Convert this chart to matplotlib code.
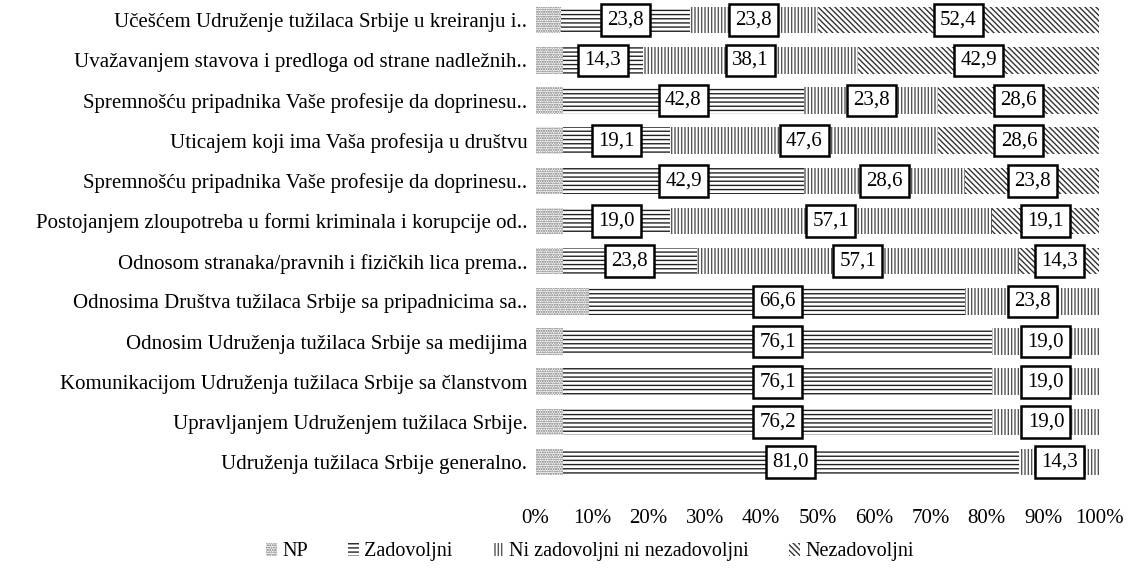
import matplotlib
matplotlib.use("Agg")
import matplotlib.pyplot as plt
import numpy as np
from matplotlib.patches import Patch

plt.rcParams['font.family'] = ['Liberation Serif', 'DejaVu Serif']
plt.rcParams['hatch.linewidth'] = 1.0

categories = [
    "Učešćem Udruženje tužilaca Srbije u kreiranju i..",
    "Uvažavanjem stavova i predloga od strane nadležnih..",
    "Spremnošću pripadnika Vaše profesije da doprinesu..",
    "Uticajem koji ima Vaša profesija u društvu",
    "Spremnošću pripadnika Vaše profesije da doprinesu..",
    "Postojanjem zloupotreba u formi kriminala i korupcije od..",
    "Odnosom stranaka/pravnih i fizičkih lica prema..",
    "Odnosima Društva tužilaca Srbije sa pripadnicima sa..",
    "Odnosim Udruženja tužilaca Srbije sa medijima",
    "Komunikacijom Udruženja tužilaca Srbije sa članstvom",
    "Upravljanjem Udruženjem tužilaca Srbije.",
    "Udruženja tužilaca Srbije generalno.",
]
series_names = ["NP", "Zadovoljni", "Ni zadovoljni ni nezadovoljni", "Nezadovoljni"]
np_vals = [4.8, 4.8, 4.8, 4.8, 4.8, 4.8, 4.8, 9.5, 4.8, 4.8, 4.8, 4.8]
zadovoljni = [23.8, 14.3, 42.8, 19.1, 42.9, 19.0, 23.8, 66.6, 76.1, 76.1, 76.2, 81.0]
ni_ni = [23.8, 38.1, 23.8, 47.6, 28.6, 57.1, 57.1, 23.8, 19.0, 19.0, 19.0, 14.3]
nezadovoljni = [52.4, 42.9, 28.6, 28.6, 23.8, 19.1, 14.3, 0.0, 0.0, 0.0, 0.0, 0.0]
tick_labels = ["0%", "10%", "20%", "30%", "40%", "50%", "60%", "70%", "80%", "90%", "100%"]

data = np.array([np_vals, zadovoljni, ni_ni, nezadovoljni], dtype=float)
totals = data.sum(axis=0)
pct = data / totals * 100

hatches = ['.......', '----', '|||||', '\\\\\\\\\\\\']
hcolors = ['#707070', '#222222', '#555555', '#333333']
labelled = [False, True, True, True]

fig = plt.figure(figsize=(11.3, 5.7), dpi=100)
ax = fig.add_axes([0.474, 0.154, 0.499, 0.846])

y = np.arange(len(categories))
left = np.zeros(len(categories))
for i in range(4):
    ax.barh(y, pct[i], left=left, height=0.66, color='white',
            edgecolor=hcolors[i], linewidth=0, hatch=hatches[i])
    if labelled[i]:
        for j in range(len(categories)):
            if data[i, j] > 0:
                ax.text(left[j] + pct[i, j] / 2, y[j], f"{data[i, j]:.1f}".replace('.', ','),
                        ha='center', va='center', fontsize=15,
                        bbox=dict(boxstyle='square,pad=0.3', fc='white', ec='black', lw=1.8))
    left += pct[i]

ax.set_xlim(0, 100)
ax.set_ylim(len(categories) - 0.5, -0.5)
ax.set_yticks(y)
ax.set_yticklabels(categories, fontsize=15)
ax.set_xticks(np.arange(0, 101, 10))
ax.set_xticklabels(tick_labels, fontsize=15)
ax.tick_params(axis='both', length=0)
ax.tick_params(axis='x', pad=19)
ax.tick_params(axis='y', pad=6)
for s in ax.spines.values():
    s.set_visible(False)

handles = [Patch(facecolor='white', edgecolor=hcolors[i], linewidth=0, hatch=hatches[i])
           for i in range(4)]
fig.legend(handles, series_names, loc='center', bbox_to_anchor=(0.522, 0.032), ncol=4,
           frameon=False, fontsize=14.5, handlelength=0.55, handleheight=0.6,
           handletextpad=0.25, columnspacing=2.0)

fig.savefig("out.png", dpi=100)
